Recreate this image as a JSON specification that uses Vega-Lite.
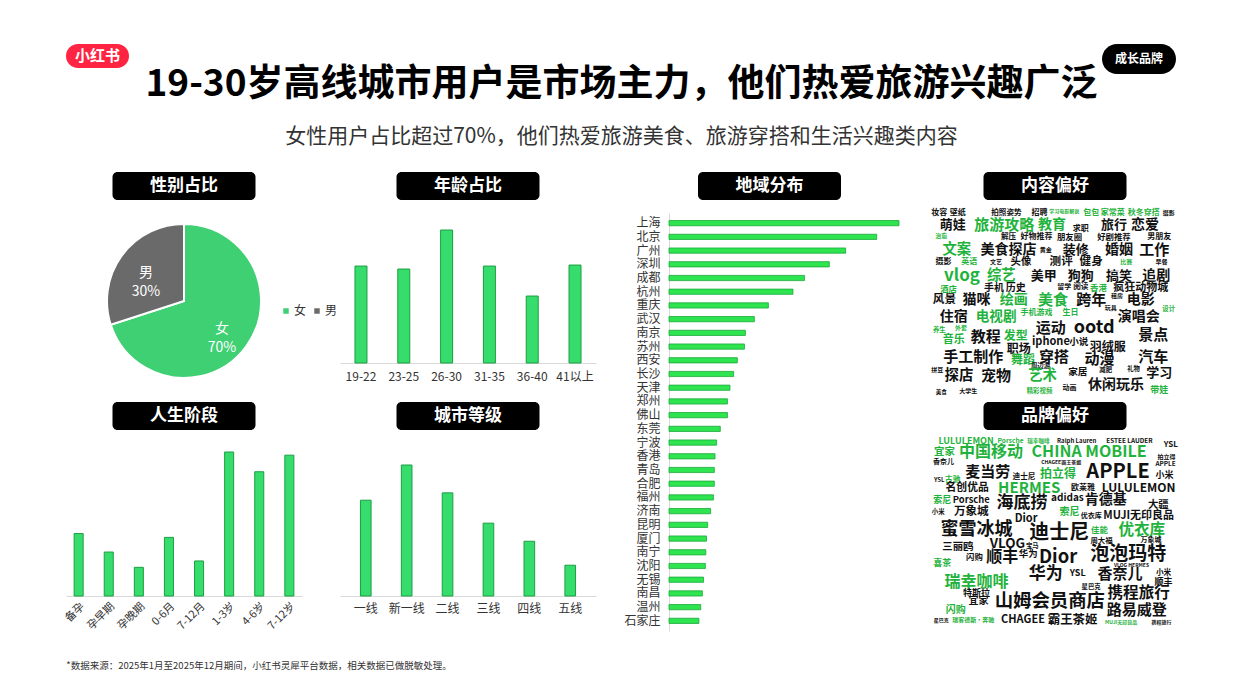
{
  "$schema": "https://vega.github.io/schema/vega-lite/v6.json",
  "background": "#ffffff",
  "padding": {"left": 62, "top": 44, "right": 40, "bottom": 20},
  "config": {
    "view": {"stroke": null},
    "font": "Noto Sans CJK SC",
    "axis": {"labelFont": "Noto Sans CJK SC", "grid": false, "ticks": false, "domainColor": "#d9d9d9", "labelColor": "#333333", "title": null},
    "legend": {"labelFont": "Noto Sans CJK SC"}
  },
  "datasets": {
    "content": [
      {"word": "妆容", "col": 0.8, "row": 0.7, "w": 40, "g": "常规"},
      {"word": "壁纸", "col": 2.6, "row": 0.7, "w": 40, "g": "常规"},
      {"word": "拍照姿势", "col": 7.3, "row": 0.7, "w": 38, "g": "常规"},
      {"word": "招聘", "col": 10.5, "row": 0.7, "w": 40, "g": "常规"},
      {"word": "学习电影解说", "col": 12.9, "row": 0.5, "w": 25, "g": "热门"},
      {"word": "包包", "col": 15.5, "row": 0.7, "w": 40, "g": "热门"},
      {"word": "家常菜", "col": 17.6, "row": 0.7, "w": 40, "g": "热门"},
      {"word": "秋冬穿搭", "col": 20.6, "row": 0.7, "w": 40, "g": "热门"},
      {"word": "摄影", "col": 23.0, "row": 0.7, "w": 30, "g": "常规"},
      {"word": "萌娃", "col": 2.1, "row": 1.7, "w": 65, "g": "常规"},
      {"word": "旅游攻略", "col": 7.1, "row": 1.7, "w": 75, "g": "热门"},
      {"word": "教育", "col": 11.7, "row": 1.7, "w": 70, "g": "热门"},
      {"word": "求职", "col": 14.5, "row": 2.0, "w": 40, "g": "常规"},
      {"word": "旅行", "col": 17.7, "row": 1.7, "w": 65, "g": "常规"},
      {"word": "恋爱", "col": 20.7, "row": 1.7, "w": 70, "g": "常规"},
      {"word": "治愈", "col": 1.0, "row": 2.6, "w": 30, "g": "热门"},
      {"word": "解压", "col": 7.5, "row": 2.7, "w": 38, "g": "常规"},
      {"word": "好物推荐", "col": 10.2, "row": 2.7, "w": 40, "g": "常规"},
      {"word": "朋友圈", "col": 13.4, "row": 2.7, "w": 42, "g": "常规"},
      {"word": "好剧推荐", "col": 17.7, "row": 2.7, "w": 42, "g": "常规"},
      {"word": "男朋友", "col": 22.1, "row": 2.7, "w": 40, "g": "常规"},
      {"word": "文案", "col": 2.5, "row": 3.75, "w": 72, "g": "热门"},
      {"word": "美食探店", "col": 7.5, "row": 3.75, "w": 70, "g": "常规"},
      {"word": "黄金", "col": 11.1, "row": 3.75, "w": 30, "g": "常规"},
      {"word": "装修", "col": 14.0, "row": 3.75, "w": 65, "g": "常规"},
      {"word": "婚姻", "col": 18.2, "row": 3.75, "w": 70, "g": "常规"},
      {"word": "工作", "col": 21.6, "row": 3.75, "w": 75, "g": "常规"},
      {"word": "摄影", "col": 1.2, "row": 4.75, "w": 40, "g": "常规"},
      {"word": "英语", "col": 3.7, "row": 4.75, "w": 40, "g": "热门"},
      {"word": "文艺", "col": 6.3, "row": 4.75, "w": 30, "g": "常规"},
      {"word": "头像", "col": 8.7, "row": 4.75, "w": 52, "g": "常规"},
      {"word": "测评", "col": 12.6, "row": 4.75, "w": 58, "g": "常规"},
      {"word": "健身", "col": 15.5, "row": 4.75, "w": 58, "g": "常规"},
      {"word": "比赛", "col": 18.9, "row": 4.75, "w": 30, "g": "热门"},
      {"word": "早餐", "col": 22.3, "row": 4.75, "w": 30, "g": "常规"},
      {"word": "vlog", "col": 3.0, "row": 5.9, "w": 85, "g": "热门"},
      {"word": "综艺", "col": 6.8, "row": 5.9, "w": 72, "g": "热门"},
      {"word": "美甲", "col": 10.9, "row": 5.9, "w": 65, "g": "常规"},
      {"word": "狗狗", "col": 14.5, "row": 5.9, "w": 65, "g": "常规"},
      {"word": "搞笑", "col": 18.2, "row": 5.9, "w": 65, "g": "常规"},
      {"word": "追剧", "col": 21.8, "row": 5.9, "w": 70, "g": "常规"},
      {"word": "酒店", "col": 1.7, "row": 7.0, "w": 42, "g": "热门"},
      {"word": "手机", "col": 6.1, "row": 6.9, "w": 50, "g": "常规"},
      {"word": "历史", "col": 8.2, "row": 6.9, "w": 50, "g": "常规"},
      {"word": "留学", "col": 12.9, "row": 6.8, "w": 35, "g": "常规"},
      {"word": "阅读", "col": 14.5, "row": 6.8, "w": 38, "g": "常规"},
      {"word": "香港", "col": 16.2, "row": 6.9, "w": 42, "g": "热门"},
      {"word": "疯狂动物城", "col": 20.3, "row": 6.9, "w": 55, "g": "常规"},
      {"word": "风景", "col": 1.3, "row": 7.9, "w": 58, "g": "常规"},
      {"word": "猫咪", "col": 4.4, "row": 7.9, "w": 70, "g": "常规"},
      {"word": "绘画", "col": 8.0, "row": 7.9, "w": 70, "g": "热门"},
      {"word": "美食", "col": 11.8, "row": 7.9, "w": 75, "g": "热门"},
      {"word": "跨年", "col": 15.5, "row": 7.9, "w": 75, "g": "常规"},
      {"word": "租房", "col": 18.0, "row": 7.6, "w": 30, "g": "常规"},
      {"word": "电影", "col": 20.3, "row": 7.9, "w": 70, "g": "常规"},
      {"word": "手机游戏", "col": 10.2, "row": 9.0, "w": 40, "g": "热门"},
      {"word": "生日", "col": 13.5, "row": 9.0, "w": 40, "g": "热门"},
      {"word": "玩具", "col": 17.4, "row": 8.6, "w": 30, "g": "常规"},
      {"word": "设计", "col": 23.0, "row": 8.7, "w": 32, "g": "热门"},
      {"word": "住宿", "col": 2.2, "row": 9.3, "w": 70, "g": "常规"},
      {"word": "电视剧", "col": 6.3, "row": 9.3, "w": 68, "g": "热门"},
      {"word": "演唱会", "col": 20.1, "row": 9.3, "w": 70, "g": "常规"},
      {"word": "养生", "col": 0.8, "row": 10.4, "w": 32, "g": "热门"},
      {"word": "外套", "col": 2.9, "row": 10.25, "w": 30, "g": "热门"},
      {"word": "运动", "col": 11.6, "row": 10.25, "w": 75, "g": "常规"},
      {"word": "ootd", "col": 15.8, "row": 10.25, "w": 90, "g": "常规"},
      {"word": "教程", "col": 5.3, "row": 11.0, "w": 75, "g": "常规"},
      {"word": "发型", "col": 8.2, "row": 10.9, "w": 60, "g": "热门"},
      {"word": "景点", "col": 21.5, "row": 10.8, "w": 75, "g": "常规"},
      {"word": "音乐", "col": 2.2, "row": 11.25, "w": 55, "g": "热门"},
      {"word": "iphone", "col": 11.6, "row": 11.4, "w": 55, "g": "常规"},
      {"word": "小说", "col": 14.3, "row": 11.4, "w": 48, "g": "常规"},
      {"word": "职场", "col": 8.5, "row": 12.0, "w": 60, "g": "常规"},
      {"word": "羽绒服", "col": 17.1, "row": 11.8, "w": 60, "g": "常规"},
      {"word": "手工制作", "col": 4.1, "row": 12.7, "w": 75, "g": "常规"},
      {"word": "舞蹈", "col": 8.9, "row": 12.9, "w": 60, "g": "热门"},
      {"word": "穿搭", "col": 11.9, "row": 12.7, "w": 75, "g": "常规"},
      {"word": "动漫", "col": 16.3, "row": 12.8, "w": 75, "g": "常规"},
      {"word": "汽车", "col": 21.5, "row": 12.7, "w": 75, "g": "常规"},
      {"word": "拼豆", "col": 0.6, "row": 13.75, "w": 30, "g": "常规"},
      {"word": "周边游", "col": 10.6, "row": 13.4, "w": 32, "g": "常规"},
      {"word": "家居", "col": 14.2, "row": 13.9, "w": 48, "g": "常规"},
      {"word": "减肥", "col": 16.9, "row": 13.75, "w": 32, "g": "常规"},
      {"word": "礼物", "col": 19.6, "row": 13.7, "w": 32, "g": "常规"},
      {"word": "探店", "col": 2.7, "row": 14.25, "w": 72, "g": "常规"},
      {"word": "宠物", "col": 6.3, "row": 14.25, "w": 75, "g": "常规"},
      {"word": "艺术", "col": 10.8, "row": 14.25, "w": 72, "g": "热门"},
      {"word": "学习", "col": 22.1, "row": 14.0, "w": 65, "g": "常规"},
      {"word": "休闲玩乐", "col": 17.9, "row": 15.0, "w": 70, "g": "常规"},
      {"word": "大学生", "col": 3.6, "row": 15.5, "w": 30, "g": "常规"},
      {"word": "美食", "col": 1.0, "row": 15.6, "w": 28, "g": "常规"},
      {"word": "精彩视频", "col": 10.5, "row": 15.5, "w": 32, "g": "热门"},
      {"word": "动画", "col": 13.4, "row": 15.25, "w": 35, "g": "常规"},
      {"word": "带娃", "col": 22.1, "row": 15.4, "w": 45, "g": "热门"}
    ],
    "brand": [
      {"word": "LULULEMON", "col": 3.4, "row": 0.5, "w": 45, "g": "热门"},
      {"word": "Porsche", "col": 7.7, "row": 0.5, "w": 33, "g": "热门"},
      {"word": "瑞幸咖啡", "col": 10.4, "row": 0.5, "w": 28, "g": "热门"},
      {"word": "Ralph Lauren", "col": 14.1, "row": 0.5, "w": 30, "g": "常规"},
      {"word": "ESTEE LAUDER", "col": 19.2, "row": 0.5, "w": 32, "g": "常规"},
      {"word": "YSL", "col": 23.2, "row": 0.8, "w": 40, "g": "常规"},
      {"word": "宜家", "col": 1.3, "row": 1.4, "w": 52, "g": "热门"},
      {"word": "中国移动", "col": 5.8, "row": 1.4, "w": 80, "g": "热门"},
      {"word": "CHINA MOBILE", "col": 15.3, "row": 1.4, "w": 80, "g": "热门"},
      {"word": "拍立得", "col": 22.8, "row": 1.8, "w": 30, "g": "常规"},
      {"word": "香奈儿", "col": 1.2, "row": 2.2, "w": 35, "g": "常规"},
      {"word": "CHAGEE霸王茶姬", "col": 12.6, "row": 2.2, "w": 25, "g": "常规"},
      {"word": "APPLE", "col": 22.7, "row": 2.4, "w": 32, "g": "常规"},
      {"word": "麦当劳", "col": 5.5, "row": 3.1, "w": 75, "g": "常规"},
      {"word": "拍立得", "col": 12.3, "row": 3.2, "w": 60, "g": "热门"},
      {"word": "APPLE", "col": 18.1, "row": 3.1, "w": 100, "g": "常规"},
      {"word": "小米", "col": 22.6, "row": 3.3, "w": 45, "g": "常规"},
      {"word": "YSL", "col": 0.8, "row": 3.7, "w": 30, "g": "常规"},
      {"word": "古驰", "col": 2.1, "row": 3.7, "w": 38, "g": "热门"},
      {"word": "迪士尼", "col": 9.0, "row": 3.5, "w": 38, "g": "常规"},
      {"word": "名创优品", "col": 3.5, "row": 4.4, "w": 54, "g": "常规"},
      {"word": "HERMES", "col": 9.5, "row": 4.4, "w": 75, "g": "热门"},
      {"word": "欧莱雅", "col": 14.7, "row": 4.4, "w": 40, "g": "常规"},
      {"word": "LULULEMON", "col": 20.1, "row": 4.4, "w": 60, "g": "常规"},
      {"word": "索尼", "col": 1.1, "row": 5.4, "w": 45, "g": "热门"},
      {"word": "Porsche", "col": 3.9, "row": 5.4, "w": 47, "g": "常规"},
      {"word": "海底捞", "col": 8.8, "row": 5.6, "w": 85, "g": "常规"},
      {"word": "adidas", "col": 13.2, "row": 5.2, "w": 50, "g": "常规"},
      {"word": "肯德基", "col": 16.9, "row": 5.4, "w": 70, "g": "常规"},
      {"word": "大疆", "col": 22.0, "row": 5.8, "w": 52, "g": "常规"},
      {"word": "小米", "col": 0.7, "row": 6.4, "w": 32, "g": "常规"},
      {"word": "万象城", "col": 3.9, "row": 6.4, "w": 58, "g": "常规"},
      {"word": "索尼", "col": 13.4, "row": 6.4, "w": 50, "g": "热门"},
      {"word": "优衣库", "col": 15.5, "row": 6.7, "w": 35, "g": "常规"},
      {"word": "MUJI无印良品", "col": 20.1, "row": 6.7, "w": 55, "g": "常规"},
      {"word": "Dior", "col": 9.2, "row": 7.0, "w": 55, "g": "常规"},
      {"word": "蜜雪冰城", "col": 4.4, "row": 7.9, "w": 90, "g": "常规"},
      {"word": "迪士尼", "col": 12.4, "row": 8.1, "w": 100, "g": "常规"},
      {"word": "佳能", "col": 16.3, "row": 7.9, "w": 42, "g": "热门"},
      {"word": "优衣库", "col": 20.4, "row": 7.9, "w": 78, "g": "热门"},
      {"word": "万象城", "col": 21.3, "row": 8.7, "w": 35, "g": "常规"},
      {"word": "VLOG", "col": 7.4, "row": 9.0, "w": 67, "g": "常规"},
      {"word": "周大福", "col": 16.5, "row": 8.8, "w": 37, "g": "常规"},
      {"word": "宝马", "col": 9.8, "row": 9.2, "w": 32, "g": "常规"},
      {"word": "三丽鸥", "col": 2.6, "row": 9.3, "w": 52, "g": "常规"},
      {"word": "华为", "col": 9.4, "row": 9.9, "w": 47, "g": "常规"},
      {"word": "泡泡玛特", "col": 19.1, "row": 9.9, "w": 95, "g": "常规"},
      {"word": "闪购", "col": 4.2, "row": 10.1, "w": 42, "g": "常规"},
      {"word": "顺丰", "col": 6.9, "row": 10.1, "w": 80, "g": "常规"},
      {"word": "Dior", "col": 12.3, "row": 10.1, "w": 92, "g": "常规"},
      {"word": "喜茶", "col": 1.1, "row": 10.6, "w": 45, "g": "热门"},
      {"word": "VLOG HERMES", "col": 19.4, "row": 10.8, "w": 25, "g": "常规"},
      {"word": "华为", "col": 11.1, "row": 11.5, "w": 85, "g": "常规"},
      {"word": "YSL", "col": 14.2, "row": 11.4, "w": 45, "g": "常规"},
      {"word": "香奈儿", "col": 18.3, "row": 11.5, "w": 75, "g": "常规"},
      {"word": "小米", "col": 22.5, "row": 11.4, "w": 38, "g": "常规"},
      {"word": "瑞幸咖啡", "col": 4.4, "row": 12.2, "w": 80, "g": "热门"},
      {"word": "顺丰", "col": 22.5, "row": 12.2, "w": 45, "g": "常规"},
      {"word": "星巴克", "col": 15.5, "row": 12.6, "w": 32, "g": "常规"},
      {"word": "特斯拉", "col": 4.4, "row": 13.1, "w": 45, "g": "常规"},
      {"word": "携程旅行", "col": 20.1, "row": 13.1, "w": 78, "g": "常规"},
      {"word": "宜家", "col": 4.6, "row": 13.8, "w": 50, "g": "常规"},
      {"word": "山姆会员商店", "col": 11.5, "row": 13.8, "w": 92, "g": "常规"},
      {"word": "闪购", "col": 2.4, "row": 14.5, "w": 50, "g": "热门"},
      {"word": "路易威登", "col": 19.9, "row": 14.5, "w": 75, "g": "常规"},
      {"word": "星巴克", "col": 1.0, "row": 15.3, "w": 25, "g": "常规"},
      {"word": "瑞客德斯·奔驰", "col": 4.1, "row": 15.3, "w": 30, "g": "热门"},
      {"word": "CHAGEE", "col": 8.9, "row": 15.3, "w": 55, "g": "常规"},
      {"word": "霸王茶姬", "col": 13.7, "row": 15.3, "w": 62, "g": "常规"},
      {"word": "MUJI无印良品", "col": 18.4, "row": 15.5, "w": 25, "g": "热门"},
      {"word": "携程旅行", "col": 22.3, "row": 15.5, "w": 25, "g": "常规"}
    ]
  },
  "vconcat": [
    {
      "hconcat": [
        {
          "width": 63, "height": 24,
          "data": {"values": [{"brand": "小红书"}]},
          "layer": [
            {"mark": {"type": "rect", "fill": "#ff2442", "cornerRadius": 12}, "encoding": {}},
            {"mark": {"type": "text", "fill": "#ffffff", "fontSize": 15, "fontWeight": "bold"}, "encoding": {"text": {"field": "brand"}}}
          ]
        },
        {
          "width": 953, "height": 24,
          "data": {"values": [{"title": "19-30岁高线城市用户是市场主力，他们热爱旅游兴趣广泛", "sub": "女性用户占比超过70%，他们热爱旅游美食、旅游穿搭和生活兴趣类内容"}]},
          "layer": [
            {"mark": {"type": "text", "fill": "#000000", "fontSize": 37, "fontWeight": "bold", "dx": 6, "dy": 29, "baseline": "middle"}, "encoding": {"text": {"field": "title"}}},
            {"mark": {"type": "text", "fill": "#333333", "fontSize": 21, "dx": 6, "dy": 81, "baseline": "middle"}, "encoding": {"text": {"field": "sub"}}}
          ]
        },
        {
          "width": 74, "height": 30,
          "data": {"values": [{"badge": "成长品牌"}]},
          "layer": [
            {"mark": {"type": "rect", "fill": "#000000", "cornerRadius": 15}, "encoding": {}},
            {"mark": {"type": "text", "fill": "#ffffff", "fontSize": 12, "fontWeight": "bold"}, "encoding": {"text": {"field": "badge"}}}
          ]
        }
      ],
      "spacing": 10,
      "bounds": "flush"
    },
    {
      "vconcat": [
        {
          "hconcat": [
            {
              "hconcat": [
                {
                  "concat": [
                    {
                      "width": 236, "height": 28,
                      "data": {"values": [{"t": "性别占比"}]},
                      "encoding": {"x": {"field": "t", "type": "nominal", "scale": {"paddingInner": 0, "paddingOuter": 0.3252}, "axis": null}},
                      "layer": [
                        {"mark": {"type": "bar", "fill": "#000000", "cornerRadius": 5}},
                        {"mark": {"type": "text", "fill": "#ffffff", "fontSize": 17, "fontWeight": "bold"}, "encoding": {"text": {"field": "t"}}}
                      ]
                    },
                    {
                      "width": 256, "height": 28,
                      "data": {"values": [{"t": "年龄占比"}]},
                      "encoding": {"x": {"field": "t", "type": "nominal", "scale": {"paddingInner": 0, "paddingOuter": 0.3951}, "axis": null}},
                      "layer": [
                        {"mark": {"type": "bar", "fill": "#000000", "cornerRadius": 5}},
                        {"mark": {"type": "text", "fill": "#ffffff", "fontSize": 17, "fontWeight": "bold"}, "encoding": {"text": {"field": "t"}}}
                      ]
                    },
                    {
                      "width": 236, "height": 158,
                      "data": {"values": [{"sex": "女", "share": 70, "label": "女\n70%"}, {"sex": "男", "share": 30, "label": "男\n30%"}]},
                      "encoding": {
                        "theta": {"field": "share", "type": "quantitative", "stack": true},
                        "order": {"field": "share", "sort": "descending"},
                        "color": {
                          "field": "sex", "type": "nominal",
                          "scale": {"domain": ["女", "男"], "range": ["#3fd073", "#6a6a6a"]},
                          "legend": {"title": null, "orient": "none", "legendX": 214, "legendY": 261, "direction": "horizontal", "symbolType": "square", "symbolSize": 30, "symbolStrokeWidth": 0, "labelFontSize": 12, "labelColor": "#333333", "columnPadding": 4, "labelOffset": 2}
                        }
                      },
                      "layer": [
                        {"mark": {"type": "arc", "outerRadius": 77, "stroke": "#ffffff", "strokeWidth": 2}},
                        {"mark": {"type": "text", "radius": 47, "fontSize": 14, "lineBreak": "\n", "lineHeight": 19}, "encoding": {"text": {"field": "label"}, "color": {"value": "#ffffff"}}}
                      ]
                    },
                    {
                      "width": 256, "height": 141,
                      "data": {"values": [
                        {"age": "19-22", "share": 16.55},
                        {"age": "23-25", "share": 16.04},
                        {"age": "26-30", "share": 22.70},
                        {"age": "31-35", "share": 16.55},
                        {"age": "36-40", "share": 11.43},
                        {"age": "41以上", "share": 16.72}
                      ]},
                      "mark": {"type": "bar", "fill": "#36dd6c", "stroke": "#1c9e42", "strokeWidth": 1},
                      "encoding": {
                        "x": {"field": "age", "type": "nominal", "sort": null, "scale": {"paddingInner": 0.72, "paddingOuter": 0.35}, "axis": {"labelAngle": 0, "labelFontSize": 12, "labelPadding": 8}},
                        "y": {"field": "share", "type": "quantitative", "scale": {"domain": [0, 24.07], "nice": false}, "axis": null}
                      }
                    },
                    {
                      "width": 236, "height": 28,
                      "data": {"values": [{"t": "人生阶段"}]},
                      "encoding": {"x": {"field": "t", "type": "nominal", "scale": {"paddingInner": 0, "paddingOuter": 0.3252}, "axis": null}},
                      "layer": [
                        {"mark": {"type": "bar", "fill": "#000000", "cornerRadius": 5}},
                        {"mark": {"type": "text", "fill": "#ffffff", "fontSize": 17, "fontWeight": "bold"}, "encoding": {"text": {"field": "t"}}}
                      ]
                    },
                    {
                      "width": 256, "height": 28,
                      "data": {"values": [{"t": "城市等级"}]},
                      "encoding": {"x": {"field": "t", "type": "nominal", "scale": {"paddingInner": 0, "paddingOuter": 0.3951}, "axis": null}},
                      "layer": [
                        {"mark": {"type": "bar", "fill": "#000000", "cornerRadius": 5}},
                        {"mark": {"type": "text", "fill": "#ffffff", "fontSize": 17, "fontWeight": "bold"}, "encoding": {"text": {"field": "t"}}}
                      ]
                    },
                    {
                      "width": 236, "height": 144,
                      "data": {"values": [
                        {"stage": "备孕", "share": 9.8},
                        {"stage": "孕早期", "share": 6.9},
                        {"stage": "孕晚期", "share": 4.5},
                        {"stage": "0-6月", "share": 9.2},
                        {"stage": "7-12月", "share": 5.5},
                        {"stage": "1-3岁", "share": 22.6},
                        {"stage": "4-6岁", "share": 19.5},
                        {"stage": "7-12岁", "share": 22.1}
                      ]},
                      "mark": {"type": "bar", "fill": "#36dd6c", "stroke": "#1c9e42", "strokeWidth": 1},
                      "encoding": {
                        "x": {"field": "stage", "type": "nominal", "sort": null, "scale": {"paddingInner": 0.7, "paddingOuter": 0.27}, "axis": {"labelAngle": -45, "labelFontSize": 11, "labelPadding": 4}},
                        "y": {"field": "share", "type": "quantitative", "scale": {"domain": [0, 22.6], "nice": false}, "axis": null}
                      }
                    },
                    {
                      "width": 256, "height": 144,
                      "data": {"values": [
                        {"tier": "一线", "share": 19.6},
                        {"tier": "新一线", "share": 26.8},
                        {"tier": "二线", "share": 21.1},
                        {"tier": "三线", "share": 14.9},
                        {"tier": "四线", "share": 11.2},
                        {"tier": "五线", "share": 6.3}
                      ]},
                      "mark": {"type": "bar", "fill": "#36dd6c", "stroke": "#1c9e42", "strokeWidth": 1},
                      "encoding": {
                        "x": {"field": "tier", "type": "nominal", "sort": null, "scale": {"paddingInner": 0.74, "paddingOuter": 0.5}, "axis": {"labelAngle": 0, "labelFontSize": 12, "labelPadding": 7}},
                        "y": {"field": "share", "type": "quantitative", "scale": {"domain": [0, 29.46], "nice": false}, "axis": null}
                      }
                    }
                  ],
                  "columns": 2,
                  "align": "each",
                  "spacing": {"row": 22, "column": 38},
                  "bounds": "flush"
                },
                {
                  "vconcat": [
                    {
                      "width": 143, "height": 28,
                      "data": {"values": [{"t": "地域分布"}]},
                      "layer": [
                        {"mark": {"type": "rect", "fill": "#000000", "cornerRadius": 5}, "encoding": {}},
                        {"mark": {"type": "text", "fill": "#ffffff", "fontSize": 17, "fontWeight": "bold"}, "encoding": {"text": {"field": "t"}}}
                      ]
                    },
                    {
                      "width": 279, "height": 418,
                      "data": {"values": [
                        {"city": "上海", "share": 10.0},
                        {"city": "北京", "share": 9.03},
                        {"city": "广州", "share": 7.68},
                        {"city": "深圳", "share": 6.97},
                        {"city": "成都", "share": 5.89},
                        {"city": "杭州", "share": 5.39},
                        {"city": "重庆", "share": 4.32},
                        {"city": "武汉", "share": 3.71},
                        {"city": "南京", "share": 3.32},
                        {"city": "苏州", "share": 3.28},
                        {"city": "西安", "share": 2.97},
                        {"city": "长沙", "share": 2.81},
                        {"city": "天津", "share": 2.65},
                        {"city": "郑州", "share": 2.54},
                        {"city": "佛山", "share": 2.54},
                        {"city": "东莞", "share": 2.23},
                        {"city": "宁波", "share": 2.07},
                        {"city": "香港", "share": 2.0},
                        {"city": "青岛", "share": 1.97},
                        {"city": "合肥", "share": 1.97},
                        {"city": "福州", "share": 1.93},
                        {"city": "济南", "share": 1.81},
                        {"city": "昆明", "share": 1.68},
                        {"city": "厦门", "share": 1.63},
                        {"city": "南宁", "share": 1.6},
                        {"city": "沈阳", "share": 1.58},
                        {"city": "无锡", "share": 1.5},
                        {"city": "南昌", "share": 1.45},
                        {"city": "温州", "share": 1.38},
                        {"city": "石家庄", "share": 1.3}
                      ]},
                      "mark": {"type": "bar", "fill": "#2ee54f", "stroke": "#1aa83a", "strokeWidth": 0.8},
                      "encoding": {
                        "y": {"field": "city", "type": "nominal", "sort": null, "scale": {"paddingInner": 0.62, "paddingOuter": 0.55}, "axis": {"labelFontSize": 12, "labelPadding": 9, "offset": -39}},
                        "x": {"field": "share", "type": "quantitative", "scale": {"domain": [-1.696, 10.435], "nice": false, "zero": false}, "axis": null}
                      }
                    }
                  ],
                  "spacing": 13,
                  "center": true,
                  "bounds": "flush"
                }
              ],
              "spacing": 27
            },
            {
              "vconcat": [
                {
                  "width": 143, "height": 28,
                  "data": {"values": [{"t": "内容偏好"}]},
                  "layer": [
                    {"mark": {"type": "rect", "fill": "#000000", "cornerRadius": 5}, "encoding": {}},
                    {"mark": {"type": "text", "fill": "#ffffff", "fontSize": 17, "fontWeight": "bold"}, "encoding": {"text": {"field": "t"}}}
                  ]
                },
                {
                  "width": 248, "height": 192,
                  "data": {"name": "content"},
                  "mark": {"type": "text", "fontWeight": "bold", "baseline": "middle", "align": "center"},
                  "encoding": {
                    "x": {"field": "col", "type": "quantitative", "scale": {"domain": [0, 24], "nice": false, "zero": false}, "axis": null},
                    "y": {"field": "row", "type": "quantitative", "scale": {"domain": [0, 16], "nice": false, "zero": false, "reverse": true}, "axis": null},
                    "size": {"field": "w", "type": "quantitative", "scale": {"domain": [0, 100], "range": [0, 20]}, "legend": null},
                    "color": {"condition": {"test": "datum.g === '热门'", "value": "#1fb33d"}, "value": "#111111"},
                    "text": {"field": "word"}
                  }
                },
                {
                  "width": 143, "height": 28,
                  "data": {"values": [{"t": "品牌偏好"}]},
                  "layer": [
                    {"mark": {"type": "rect", "fill": "#000000", "cornerRadius": 5}, "encoding": {}},
                    {"mark": {"type": "text", "fill": "#ffffff", "fontSize": 17, "fontWeight": "bold"}, "encoding": {"text": {"field": "t"}}}
                  ]
                },
                {
                  "width": 248, "height": 193,
                  "data": {"name": "brand"},
                  "mark": {"type": "text", "fontWeight": "bold", "baseline": "middle", "align": "center"},
                  "encoding": {
                    "x": {"field": "col", "type": "quantitative", "scale": {"domain": [0, 24], "nice": false, "zero": false}, "axis": null},
                    "y": {"field": "row", "type": "quantitative", "scale": {"domain": [0, 16], "nice": false, "zero": false, "reverse": true}, "axis": null},
                    "size": {"field": "w", "type": "quantitative", "scale": {"domain": [0, 100], "range": [0, 20]}, "legend": null},
                    "color": {"condition": {"test": "datum.g === '热门'", "value": "#1fb33d"}, "value": "#111111"},
                    "text": {"field": "word"}
                  }
                }
              ],
              "spacing": 5,
              "center": true,
              "bounds": "flush"
            }
          ],
          "spacing": 22
        },
        {
          "width": 386, "height": 10,
          "data": {"values": [{"note": "*数据来源：2025年1月至2025年12月期间，小红书灵犀平台数据，相关数据已做脱敏处理。"}]},
          "mark": {"type": "text", "fontSize": 9.5, "fill": "#333333", "baseline": "middle"},
          "encoding": {"text": {"field": "note"}}
        }
      ],
      "spacing": 29
    }
  ],
  "spacing": 25
}
